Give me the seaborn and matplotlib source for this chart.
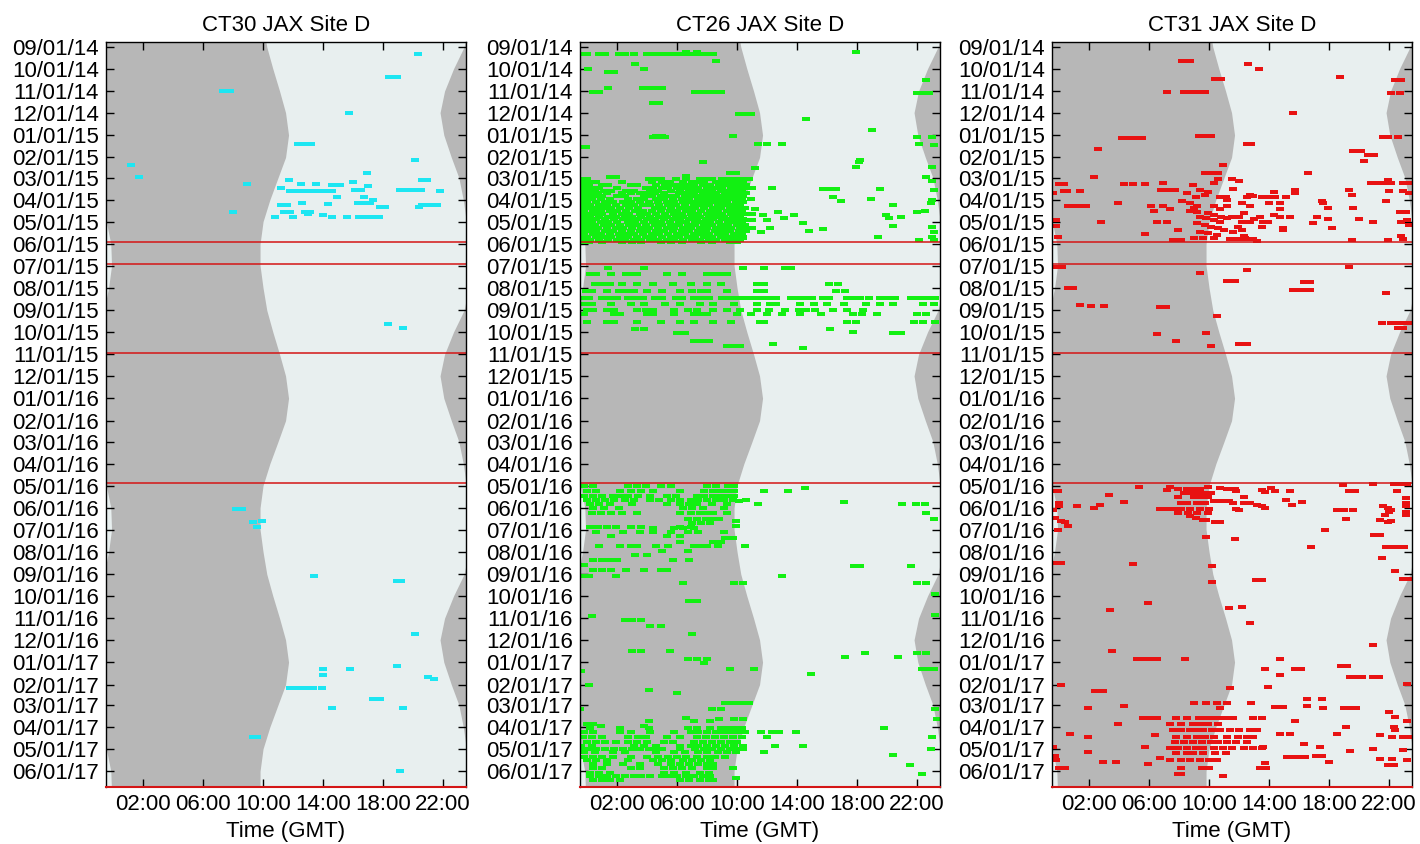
import pandas as pd
import matplotlib
matplotlib.use('Agg')
import matplotlib.pyplot as plt
import matplotlib.dates as mdates
from matplotlib.markers import MarkerStyle
import seaborn as sns

sns.set_style('ticks')
plt.rcParams['font.family'] = ['Liberation Sans', 'DejaVu Sans']
plt.rcParams['text.color'] = 'black'
plt.rcParams['axes.labelcolor'] = 'black'
plt.rcParams['xtick.color'] = 'black'
plt.rcParams['ytick.color'] = 'black'

# cores
dark = '#b7b7b7'
light = '#e8efef'
line_red = '#d41515'

# nascer / por do sol (hora GMT) no dia 1 de cada mes, jan..dez
sunrise_tab = [11.7, 11.5, 11.0, 10.45, 10.0, 9.8, 9.8, 10.0, 10.25, 10.65, 11.1, 11.5]
sunset_tab = [22.05, 22.55, 23.05, 23.35, 23.55, 23.85, 23.9, 23.7, 23.4, 22.7, 22.1, 21.8]

# linhas vermelhas (periodos)
ref_lines = ['2015-05-30', '2015-06-29', '2015-10-30', '2016-04-27']

# ---------------- CT30 ----------------
ct30_days = ['2014-09-11', '2014-10-12', '2014-11-01', '2014-12-01', '2015-01-14', '2015-02-05',
             '2015-02-12', '2015-02-22', '2015-02-28', '2015-03-05', '2015-03-07', '2015-03-10',
             '2015-03-11', '2015-03-13', '2015-03-15', '2015-03-18', '2015-03-19', '2015-03-28',
             '2015-04-01', '2015-04-05', '2015-04-06', '2015-04-08', '2015-04-11', '2015-04-18',
             '2015-04-20', '2015-04-22', '2015-04-24', '2015-09-20', '2015-09-26', '2016-06-03',
             '2016-06-19', '2016-06-20', '2016-06-28', '2016-09-03', '2016-09-11', '2016-11-23',
             '2017-01-06', '2017-01-10', '2017-01-19', '2017-01-22', '2017-01-24', '2017-02-06',
             '2017-02-21', '2017-03-05', '2017-04-14', '2017-06-01']
ct30_hours = [[20.3], [18.4, 18.9], [7.3, 7.8], [15.7], [12.3, 12.8, 13.2], [20.1],
              [1.2], [16.9], [1.7], [11.7, 20.6, 20.9], [16.0], [8.9, 12.5, 13.5],
              [14.6, 15.1], [17.0], [11.2], [16.1, 16.5, 19.1, 19.5, 20.0, 20.5],
              [11.8, 12.3, 12.8, 13.3, 13.7, 14.2, 14.6, 21.8], [14.9, 16.7],
              [17.3], [12.6, 16.3, 16.8, 17.1], [14.3], [11.2, 11.6, 20.6, 21.1, 21.6],
              [17.8, 18.1, 20.4], [8.0, 11.4, 11.8, 12.8, 13.1],
              [13.0], [14.0], [10.8, 12.0, 14.6, 15.6, 16.4, 16.8, 17.3, 17.7], [18.3], [19.3], [8.2, 8.6],
              [9.9], [9.3], [9.6], [13.4], [18.9, 19.2], [20.1],
              [18.9], [14.0, 15.8], [14.0], [21.0], [21.4], [11.8, 12.1, 12.4, 12.9, 13.3, 13.9],
              [17.3, 17.8], [14.6, 19.3], [9.3, 9.6], [19.1]]

# ---------------- CT26 ----------------
ct26_days = ['2014-09-08', '2014-09-11', '2014-09-20', '2014-09-25', '2014-10-02', '2014-10-05',
             '2014-10-17', '2014-10-28', '2014-11-02', '2014-11-04', '2014-11-17', '2014-12-03',
             '2014-12-10', '2014-12-25', '2015-01-02', '2015-01-04', '2015-01-13', '2015-01-15',
             '2015-01-17', '2015-02-04', '2015-02-07', '2015-02-14', '2015-02-16', '2015-02-22',
             '2015-02-27', '2015-02-28',
             # bloco denso mar-mai 2015
             '2015-03-03', '2015-03-07', '2015-03-11', '2015-03-15', '2015-03-19', '2015-03-23',
             '2015-03-27', '2015-03-31', '2015-04-04', '2015-04-08', '2015-04-12', '2015-04-16',
             '2015-04-20', '2015-04-24', '2015-04-28', '2015-05-02', '2015-05-06', '2015-05-10',
             '2015-05-14', '2015-05-18', '2015-05-22', '2015-05-26', '2015-05-29',
             # pontos dispersos (dia) mar-mai 2015
             '2015-03-06', '2015-03-16', '2015-03-17', '2015-03-18', '2015-03-28', '2015-03-31',
             '2015-04-01', '2015-04-03', '2015-04-05', '2015-04-08', '2015-04-14', '2015-04-17',
             '2015-04-18', '2015-04-22', '2015-04-25', '2015-04-26', '2015-04-29', '2015-05-03',
             '2015-05-07', '2015-05-08', '2015-05-10', '2015-05-11', '2015-05-14', '2015-05-15',
             '2015-05-22', '2015-05-23', '2015-05-24', '2015-05-26', '2015-05-27',
             # jul-out 2015
             '2015-07-04', '2015-07-13', '2015-07-26', '2015-08-05', '2015-08-15', '2015-08-23',
             '2015-08-31', '2015-09-06', '2015-09-17', '2015-09-27', '2015-10-01', '2015-10-03',
             '2015-10-13', '2015-10-18', '2015-10-20', '2015-10-23',
             # 2016
             '2016-05-02', '2016-05-04', '2016-05-09', '2016-05-15', '2016-05-21', '2016-05-23',
             '2016-05-24', '2016-05-27', '2016-06-01', '2016-06-08', '2016-06-16', '2016-06-19',
             '2016-06-22', '2016-06-26', '2016-06-27', '2016-06-29', '2016-07-05', '2016-07-10',
             '2016-07-13', '2016-07-18', '2016-07-24', '2016-07-31', '2016-08-05', '2016-08-12',
             '2016-08-19', '2016-08-20', '2016-08-26', '2016-09-04', '2016-09-13', '2016-09-28',
             '2016-10-08', '2016-10-27', '2016-10-29', '2016-11-03', '2016-11-12', '2016-11-23',
             '2016-12-16', '2016-12-19', '2016-12-25', '2016-12-28',
             # 2017
             '2017-01-02', '2017-01-10', '2017-01-13', '2017-01-17', '2017-02-01', '2017-02-08',
             '2017-02-13', '2017-02-26', '2017-03-07', '2017-03-19', '2017-03-21', '2017-03-23',
             '2017-03-27', '2017-03-31', '2017-04-02', '2017-04-08', '2017-04-14', '2017-04-21',
             '2017-04-27', '2017-05-02', '2017-05-06', '2017-05-10', '2017-05-13', '2017-05-17',
             '2017-05-22', '2017-05-23', '2017-05-28', '2017-06-03', '2017-06-05', '2017-06-08',
             '2017-06-11', '2017-06-13']
ct26_hours = [[17.9, 6.6, 7.3],
              [-0.2, 0.0, 0.8, 1.2, 2.1, 2.5, 3.1, 4.0, 4.4, 4.8, 5.2, 5.6, 5.9, 6.2, 6.4, 6.8, 7.2, 7.6, 8.0, 8.4],
              [8.6], [3.2], [0.05, 3.8], [1.4, 1.8],
              [22.6], [1.4, 3.7, 4.1, 4.6, 5.0], [0.4, 0.8, 7.2, 7.6, 8.1, 8.5, 8.9], [22.0, 22.4, 22.8], [4.4, 4.8], [10.1, 10.5, 10.9],
              [14.6], [19.0], [9.7, 4.6, 5.0], [4.4, 4.8, 5.2, 22.0, 23.0], [11.4, 12.0, 13.0, 22.1], [23.1],
              [-0.4, -0.1], [18.2], [7.7, 18.1], [17.9, 23.0], [11.2], [9.5, 9.9],
              [6.6], [1.5, 1.9, 22.6],
              # bloco denso
              [-0.4, 0.0, 4.1, 4.5, 4.9, 5.9, 6.6, 7.5, 7.9, 8.3, 9.0, 9.4, 9.8, 10.3, 10.8],
              [-0.3, 0.2, 0.6, 2.3, 4.3, 5.0, 5.5, 6.4, 7.0, 7.4, 7.8, 8.6, 9.1, 9.5, 10.0, 10.4],
              [-0.4, 0.1, 1.0, 1.4, 2.9, 3.3, 4.6, 5.2, 5.7, 6.1, 6.6, 7.1, 7.7, 8.2, 8.8, 9.3, 9.7, 10.2, 10.6],
              [-0.2, 0.3, 0.8, 2.0, 3.9, 4.4, 5.0, 5.4, 6.0, 6.5, 6.9, 7.4, 8.0, 8.5, 9.0, 9.6, 10.0, 10.5, 11.0],
              [-0.4, 0.0, 0.5, 1.1, 1.6, 2.6, 3.1, 4.2, 4.7, 5.6, 6.2, 6.8, 7.3, 7.8, 8.3, 8.9, 9.4, 9.8, 10.3],
              [-0.3, 0.2, 0.7, 1.3, 2.3, 2.9, 3.5, 4.0, 4.5, 5.1, 6.1, 6.6, 7.1, 7.7, 8.2, 8.6, 9.2, 9.7, 10.1, 10.6],
              [-0.4, 0.1, 0.5, 1.0, 2.0, 2.5, 3.8, 4.3, 4.9, 5.4, 5.9, 6.5, 7.0, 7.5, 8.0, 8.5, 9.0, 9.5, 10.0, 10.4],
              [-0.2, 0.3, 0.9, 1.5, 2.7, 3.3, 3.8, 4.6, 5.1, 5.7, 6.3, 6.8, 7.4, 7.9, 8.4, 8.9, 9.4, 9.9, 10.3, 10.9],
              [-0.4, 0.0, 0.6, 1.2, 1.7, 2.4, 2.9, 3.5, 4.1, 4.7, 5.3, 5.8, 6.4, 6.9, 7.3, 7.8, 8.3, 8.8, 9.3, 9.9, 10.4],
              [-0.3, 0.2, 0.8, 1.3, 1.9, 2.6, 3.1, 3.7, 4.2, 4.8, 5.4, 5.9, 6.5, 7.1, 7.6, 8.1, 8.7, 9.2, 9.7, 10.2],
              [-0.4, 0.1, 0.6, 1.1, 1.6, 2.2, 2.8, 3.4, 4.5, 5.0, 5.6, 6.2, 6.7, 7.2, 7.8, 8.4, 8.9, 9.5, 10.0, 10.5],
              [-0.2, 0.4, 0.9, 1.5, 2.0, 2.6, 3.2, 3.7, 4.3, 4.9, 5.5, 6.0, 6.6, 7.0, 7.6, 8.2, 8.7, 9.3, 9.8, 10.3],
              [-0.4, 0.0, 0.5, 1.0, 1.7, 2.3, 2.8, 3.5, 4.0, 4.6, 5.2, 5.8, 6.3, 6.9, 7.4, 8.0, 8.5, 9.0, 9.6, 10.1, 10.6, 11.0],
              [-0.3, 0.2, 0.8, 1.4, 1.9, 2.5, 3.0, 3.6, 4.2, 4.8, 5.3, 5.9, 6.4, 7.0, 7.5, 8.1, 8.6, 9.1, 9.7, 10.2],
              [-0.4, 0.1, 0.6, 1.2, 1.8, 2.4, 2.9, 3.4, 4.0, 4.5, 5.1, 5.7, 6.2, 6.8, 7.3, 7.9, 8.4, 9.0, 9.5, 10.0, 10.4],
              [-0.2, 0.3, 0.9, 1.4, 2.0, 2.7, 3.2, 3.8, 4.4, 4.9, 5.5, 6.1, 6.6, 7.2, 7.7, 8.2, 8.8, 9.4, 9.9, 10.3],
              [-0.4, 0.0, 0.5, 1.1, 1.6, 2.2, 2.8, 3.3, 3.9, 4.5, 5.0, 5.6, 6.1, 6.7, 7.2, 7.8, 8.3, 8.9, 9.4, 10.0, 10.5],
              [-0.3, 0.2, 0.7, 1.3, 1.9, 2.4, 3.0, 3.6, 4.1, 4.7, 5.3, 5.8, 6.4, 6.9, 7.5, 8.0, 8.6, 9.1, 9.6, 10.2, 10.7, 11.0],
              [-0.4, 0.1, 0.6, 1.2, 1.7, 2.3, 2.9, 3.5, 4.0, 4.6, 5.1, 5.7, 6.3, 6.8, 7.4, 7.9, 8.5, 9.0, 9.5, 10.1, 10.6],
              [-0.2, 0.4, 0.9, 1.5, 2.1, 2.6, 3.1, 3.7, 4.3, 4.8, 5.4, 6.0, 6.5, 7.1, 7.6, 8.1, 8.7, 9.2, 9.8, 10.3],
              [-0.4, 0.0, 0.6, 1.1, 1.6, 2.2, 2.7, 3.3, 3.9, 4.4, 5.0, 5.6, 6.1, 6.7, 7.2, 7.8, 8.3, 8.9, 9.4, 9.9, 10.4],
              [-0.3, 0.2, 0.8, 1.4, 2.0, 2.5, 3.1, 3.6, 4.2, 4.7, 5.3, 5.8, 6.4, 7.0, 7.5, 8.1, 8.6, 9.2, 9.7, 10.2],
              [-0.4, 0.1, 1.0, 2.3, 3.0, 3.6, 4.9, 5.6, 6.3, 7.6, 8.3, 9.5, 10.0],
              # dispersos
              [23.0], [12.3], [15.7, 16.1, 16.6, 19.5], [23.1], [16.4], [18.9],
              [23.0], [16.9], [22.9], [20.4], [11.2], [22.5],
              [12.7, 22.0], [11.7, 13.8, 19.9], [20.9], [13.1, 20.1], [12.0, 10.7, 11.0], [14.4],
              [20.4], [23.0], [12.2], [15.7], [14.8], [11.6, 23.1],
              [23.0], [19.4], [10.4], [22.1], [23.1],
              # jul-out 2015
              [1.4, 3.8, 10.4, 11.8, 13.2, 13.6],
              [0.2, 0.6, 1.6, 2.6, 3.0, 3.3, 5.3, 6.3, 8.0, 8.4, 8.9, 9.3],
              [0.5, 1.0, 1.5, 2.3, 3.3, 4.4, 5.7, 6.9, 8.0, 8.9, 11.3, 11.8, 16.1, 16.7],
              [-0.1, 0.3, 1.3, 2.1, 2.6, 3.1, 4.0, 5.0, 6.2, 7.0, 7.6, 8.0, 9.3, 11.3, 11.8, 16.6, 17.2],
              [-0.3, 0.1, 1.0, 1.5, 2.0, 2.7, 3.2, 3.7, 4.5, 5.0, 5.9, 6.3, 7.1, 7.6, 8.1, 9.0, 9.4, 9.8, 10.2, 10.6,
               11.0, 11.4, 11.8, 12.2, 12.6, 13.6, 14.1, 14.6, 15.0, 15.7, 16.1, 17.3, 17.8, 18.2, 18.8, 19.5, 20.0,
               20.5, 21.6, 22.0, 22.4, 22.8, 23.2],
              [-0.2, 0.3, 1.6, 2.9, 3.8, 5.2, 6.2, 7.5, 8.4, 9.8, 11.3, 12.2, 12.6, 14.2, 15.1, 16.0, 17.1, 18.6, 19.5,
               20.4, 22.4, 23.1],
              [0.0, 0.4, 1.3, 1.8, 3.3, 3.9, 4.4, 5.8, 6.7, 7.3, 8.4, 9.3, 10.2, 11.3, 12.1, 13.2, 14.1, 14.6, 15.2,
               16.4, 17.3, 18.4],
              [-0.2, 1.8, 2.2, 4.0, 4.4, 5.8, 7.1, 7.6, 8.0, 10.0, 10.9, 12.0, 13.0, 14.2, 15.6, 17.7, 18.3, 19.3, 22.0, 22.6],
              [0.0, 1.3, 1.8, 3.3, 4.9, 6.2, 7.1, 8.4, 9.6, 11.5, 11.8, 17.3, 17.9, 21.8, 22.4, 23.2],
              [3.2, 3.8, 16.2], [17.7], [6.0, 6.5, 20.4, 20.9],
              [7.1, 7.6, 8.1], [12.4], [9.3, 9.8, 10.2], [14.4],
              # 2016
              [-0.2, 0.4, 2.7, 3.3, 3.9, 4.9, 5.6, 8.0, 8.6, 9.4, 9.8], [14.5],
              [0.0, 0.6, 2.2, 2.9, 3.6, 4.4, 6.2, 7.8, 8.4, 8.9, 9.3, 9.8, 11.8, 13.4],
              [-0.2, 0.4, 1.0, 1.7, 2.2, 2.7, 3.4, 4.2, 5.3, 5.9, 7.3, 7.8, 8.4, 8.9, 9.4, 9.8],
              [0.0, 0.6, 1.2, 1.8, 2.5, 3.1, 4.2, 4.8, 5.6, 6.2, 6.9, 7.4, 8.0, 8.6, 9.1, 9.7, 10.6],
              [10.1], [17.1],
              [0.2, 0.8, 1.5, 3.0, 5.3, 6.2, 6.8, 7.3, 8.3, 9.3, 11.4, 21.0, 21.9, 22.5],
              [0.4, 1.1, 2.1, 6.4, 7.0, 7.7, 9.1],
              [0.3, 0.9, 1.6, 2.3, 3.3, 6.2, 6.9, 7.5, 8.0, 8.4, 9.3, 22.6],
              [6.7, 7.3, 7.9, 8.4, 8.8, 23.1], [9.9],
              [7.0, 7.6, 8.2], [9.9], [0.2, 0.7, 1.3, 1.9, 2.9, 3.6, 6.2, 6.9], [4.4, 5.8, 6.4, 7.1],
              [0.6, 2.4, 3.5, 4.4, 5.6, 6.7, 7.4, 9.1], [1.6, 5.3, 6.2],
              [9.2, 9.7], [6.2, 8.4, 8.9], [0.8, 2.2, 2.9, 3.3, 4.6, 5.4, 7.1, 7.6, 8.0, 8.7, 10.5], [5.0, 6.7],
              [3.2, 4.0], [0.4, 1.0, 1.5, 2.0, 5.7, 6.8],
              [-0.2], [17.8, 18.2, 21.6], [0.4, 1.0, 1.6, 2.6, 3.8, 4.9, 5.3], [-0.2, 0.1, 1.9, 13.0],
              [6.4, 9.8, 10.4, 22.0, 22.6], [23.2],
              [6.8, 7.3], [23.2], [0.3], [2.5, 3.0, 3.6], [4.2, 4.9], [7.0],
              [3.0, 3.6, 5.5], [18.5, 22.0, 22.6], [17.2, 20.7], [6.7, 7.3, 8.0],
              # 2017
              [7.8], [9.5, 11.1, 22.3, 22.8, 23.1], [-0.4], [14.9], [0.1], [4.1],
              [6.0], [9.2, 9.6, 10.0, 10.4, 10.8], [-0.5, 8.3, 8.9, 23.2], [6.6], [8.8, 9.8, 10.4, 23.3],
              [4.1, 7.1, 8.2],
              [0.0, 0.4], [0.9, 3.8],
              [0.2, 2.2, 4.1, 6.7, 7.3, 8.2, 8.9, 9.4, 9.8, 10.3, 19.8],
              [-0.2, 0.4, 2.2, 2.9, 4.2, 5.8, 6.9, 7.4, 8.0, 8.6, 9.1, 9.6, 10.1, 10.5, 11.6, 12.3, 12.8, 13.9],
              [-0.3, 0.3, 1.0, 2.7, 3.4, 3.9, 5.3, 6.2, 7.3, 7.9, 8.5, 9.1, 9.7, 10.3, 12.0, 23.0],
              [0.0, 0.6, 1.2, 1.9, 2.7, 3.3, 4.0, 5.1, 5.7, 7.1, 7.7, 8.3, 8.9, 9.5, 10.0],
              [-0.4, 0.3, 3.1, 3.8, 4.6, 6.2, 6.9, 7.4, 8.0, 8.6, 9.2, 9.8, 10.4, 12.5, 14.4],
              [-0.4, 0.1, 0.6, 1.2, 1.8, 2.4, 3.0, 3.5, 4.1, 4.5, 5.0, 6.2, 7.2, 7.8, 8.3, 8.9, 9.5, 10.0, 10.4, 22.9],
              [-0.2, 0.5, 1.7, 2.5, 4.6, 5.8, 6.5, 7.4, 8.0, 8.7, 9.3, 9.9, 11.8],
              [20.4],
              [-0.2, 0.4, 1.0, 1.7, 2.9, 4.0, 4.7, 5.4, 6.0, 6.6, 7.3, 8.0, 8.5, 9.2],
              [0.0, 0.6, 1.3, 2.7, 4.4, 5.0, 5.6, 6.4, 7.0, 7.6, 8.2],
              [0.4, 1.3, 2.4, 3.5, 4.7, 5.6, 6.2, 6.8, 7.4, 8.0, 8.4], [21.5],
              [0.4, 1.0, 2.9, 3.5, 5.1, 5.7, 6.3, 7.0, 8.0, 8.4, 9.7],
              [0.2, 0.8, 1.5, 5.1, 5.8, 6.6, 7.5, 8.1], [22.3],
              [0.2, 0.8, 1.3, 1.9, 2.5, 3.1, 3.6, 4.2, 5.0, 5.5, 6.0, 6.6, 7.1, 7.7, 8.2],
              [9.9], [0.4, 1.0, 1.5, 2.2, 6.2, 6.8, 7.5, 8.1, 8.4]]

# ---------------- CT31 ----------------
ct31_days = ['2014-09-20', '2014-09-25', '2014-10-02', '2014-10-12', '2014-10-15', '2014-10-17',
             '2014-11-02', '2014-11-04', '2014-12-01', '2015-01-02', '2015-01-04', '2015-01-05',
             '2015-01-13', '2015-01-21', '2015-01-23', '2015-01-28', '2015-02-06', '2015-02-12',
             '2015-02-22', '2015-02-28', '2015-03-03', '2015-03-05', '2015-03-06', '2015-03-08',
             '2015-03-09', '2015-03-10', '2015-03-11', '2015-03-17', '2015-03-18', '2015-03-19',
             '2015-03-20', '2015-03-21', '2015-03-22', '2015-03-23', '2015-03-25', '2015-03-27',
             '2015-03-28', '2015-04-01', '2015-04-02', '2015-04-03', '2015-04-05', '2015-04-09',
             '2015-04-10', '2015-04-12', '2015-04-14', '2015-04-17', '2015-04-18', '2015-04-19',
             '2015-04-22', '2015-04-24', '2015-04-25', '2015-04-26', '2015-04-27', '2015-04-29',
             '2015-05-01', '2015-05-02', '2015-05-03', '2015-05-06', '2015-05-07', '2015-05-08',
             '2015-05-10', '2015-05-12', '2015-05-13', '2015-05-15', '2015-05-17', '2015-05-18',
             '2015-05-20', '2015-05-21', '2015-05-22', '2015-05-24', '2015-05-25', '2015-05-26',
             '2015-05-28',
             '2015-07-03', '2015-07-07', '2015-07-11', '2015-07-22', '2015-07-24', '2015-08-01',
             '2015-08-04', '2015-08-08', '2015-08-25', '2015-08-26', '2015-08-27', '2015-09-09',
             '2015-09-18', '2015-09-26', '2015-10-03', '2015-10-04', '2015-10-13', '2015-10-18',
             '2015-10-20',
             '2016-04-29', '2016-04-30', '2016-05-03', '2016-05-04', '2016-05-06', '2016-05-07',
             '2016-05-09', '2016-05-10', '2016-05-11', '2016-05-14', '2016-05-17', '2016-05-18',
             '2016-05-21', '2016-05-22', '2016-05-24', '2016-05-25', '2016-05-28', '2016-05-29',
             '2016-05-30', '2016-06-01', '2016-06-03', '2016-06-04', '2016-06-06', '2016-06-08',
             '2016-06-11', '2016-06-12', '2016-06-15', '2016-06-17', '2016-06-18', '2016-06-19',
             '2016-06-20', '2016-06-21', '2016-06-26', '2016-07-01', '2016-07-09', '2016-07-12',
             '2016-07-14', '2016-07-25', '2016-08-10', '2016-08-17', '2016-08-18', '2016-08-21',
             '2016-08-27', '2016-09-07', '2016-09-09', '2016-09-12', '2016-10-11', '2016-10-17',
             '2016-10-18', '2016-10-20', '2016-11-07', '2016-12-08', '2016-12-16', '2016-12-28',
             '2017-01-06', '2017-01-10', '2017-01-19', '2017-01-22', '2017-01-31', '2017-02-01',
             '2017-02-04', '2017-02-06', '2017-02-10', '2017-02-21', '2017-02-26', '2017-02-27',
             '2017-03-03', '2017-03-04', '2017-03-06', '2017-03-11', '2017-03-18', '2017-03-19',
             '2017-03-23', '2017-03-24', '2017-03-27', '2017-04-01', '2017-04-05', '2017-04-10',
             '2017-04-12', '2017-04-14', '2017-04-15', '2017-04-21', '2017-04-25', '2017-04-28',
             '2017-04-29', '2017-04-30', '2017-05-01', '2017-05-03', '2017-05-04', '2017-05-06',
             '2017-05-07', '2017-05-11', '2017-05-12', '2017-05-14', '2017-05-15', '2017-05-16',
             '2017-05-19', '2017-05-21', '2017-05-22', '2017-05-23', '2017-05-27', '2017-05-28',
             '2017-06-05', '2017-06-08']
ct31_hours = [[8.2, 8.7], [12.6], [13.3], [18.7], [10.4, 10.8], [22.4, 22.8],
              [7.2, 8.3, 8.7, 9.0, 9.4, 9.7], [22.1, 22.7], [15.6], [9.3, 9.7, 10.1], [21.6, 21.9, 22.6], [4.2, 4.6, 5.0, 5.5],
              [12.5, 12.8], [2.6], [19.6, 20.1], [20.6, 21.0], [20.3], [10.9],
              [9.7, 10.2, 10.6, 16.6], [2.3], [10.6, 11.5], [21.9], [12.0], [10.3, 20.8, 21.2, 21.6, 22.1, 22.9, 23.4],
              [6.9], [0.0, 0.3, 4.3, 4.9, 5.7], [8.9], [11.6], [6.8, 7.2, 7.7, 9.4, 15.7, 19.3], [0.3, 0.5, 22.0, 22.9],
              [1.4], [9.9, 14.3], [-0.4, 23.3], [8.5, 15.7], [9.7, 12.7, 19.5], [12.9],
              [9.1, 10.7, 11.1, 12.5, 13.5, 13.9, 14.4, 15.1], [11.2], [17.5, 21.8], [8.2],
              [3.9, 8.7, 12.2, 14.0, 14.7, 17.6], [0.6, 1.0, 1.4, 1.8, 6.1, 9.2],
              [6.9, 10.3, 11.2, 12.7], [9.0, 17.9, 19.6], [7.4, 10.7, 14.7], [6.3, 8.7], [9.2, 22.7, 23.1], [9.9, 12.3],
              [10.3, 14.3], [9.4, 10.8, 11.6, 13.4, 14.7, 15.4, 17.2], [11.5, 12.0], [9.8, 11.2], [13.0, 17.9, 20.0],
              [-0.2, 10.3, 23.2],
              [7.2, 10.7, 12.2, 12.7, 13.6, 13.9], [2.8, 6.5, 20.9, 22.8], [9.2, 16.9], [9.7, 23.3], [-0.2],
              [10.1, 11.9, 13.5],
              [10.6, 14.9, 18.2], [7.9, 12.2], [11.0, 14.9], [9.4, 11.6], [9.9], [5.7],
              [10.5], [12.3, 22.8], [-0.1], [9.0, 9.6, 10.3, 12.4], [11.4, 11.9, 12.4, 12.9, 22.9],
              [7.6, 8.1, 19.5, 21.9],
              [13.2],
              [-0.2, 0.2, 19.3], [12.5], [9.4], [11.2, 11.7], [16.3, 16.7], [0.6, 0.9],
              [15.6, 16.0, 16.4, 16.7], [21.8], [1.4], [2.1, 3.0], [6.7, 7.1], [10.5],
              [21.5, 22.1, 22.5, 22.9, 23.3], [22.6, 22.9], [9.8], [6.5], [7.8], [12.0, 12.5],
              [10.1],
              [20.9, 22.3, 22.7, 23.2], [18.9], [5.3, 7.4, 9.9], [10.7, 14.1], [7.9, 8.5, 8.9, 9.4, 11.2, 11.7],
              [7.2, 13.5],
              [-0.3, -0.1, 11.8, 15.4, 19.3, 19.7, 22.5, 14.4], [13.7], [8.3, 8.7, 9.2, 9.6, 10.1], [3.3],
              [7.9, 9.0, 9.4, 9.9, 12.3], [23.1],
              [15.1], [10.3, 10.5, 11.0, 11.3], [4.3, 16.2], [0.0, 8.1, 8.5, 9.2, 9.7, 11.6, 12.3, 12.7, 23.1],
              [2.7, 13.2, 15.5], [0.0, 13.5],
              [1.2, 21.6, 23.1], [2.3, 13.7, 21.9], [6.7, 7.2, 7.6, 8.1, 8.7, 9.4, 10.0, 11.8],
              [-0.4, 12.0, 18.5, 19.0, 19.6, 22.1], [22.0, 23.1], [7.9, 8.6, 9.2, 9.9],
              [21.7, 23.1], [8.7], [-0.3, 9.1], [19.1], [9.6, 9.8, 21.4], [0.1, 22.1],
              [10.4, 10.7, 21.9], [0.4], [0.6], [-0.1, 17.7], [21.0, 21.4], [9.8],
              [11.7], [16.8, 21.8, 22.1, 22.6, 23.0], [21.5], [-0.3, 0.1], [4.9], [10.2],
              [22.4], [22.9, 23.4], [13.1, 13.5], [10.2], [5.9], [12.2],
              [11.3], [3.4], [12.7], [20.9], [3.5], [5.2, 5.6, 6.0, 6.5, 8.4, 14.7],
              [18.8, 19.2], [13.7, 15.7, 16.1], [14.7], [19.4, 19.8, 20.2, 20.9, 21.3], [23.2], [0.1],
              [13.9], [11.4], [2.4, 2.9], [16.5, 17.5], [9.0, 9.8, 10.5, 11.2], [12.8],
              [4.3, 16.5], [14.4, 14.9], [1.9, 10.7, 17.6, 19.0, 19.4, 19.8], [22.0], [22.4],
              [5.6, 6.0, 6.5, 7.8, 8.5, 9.3, 9.8, 10.3, 10.7, 11.2, 11.6, 12.9, 13.5],
              [23.2], [15.7], [3.9, 7.4, 8.1, 8.9, 9.4, 9.9, 10.6], [19.1, 22.3],
              [7.6, 8.1, 8.7, 9.2, 9.6, 10.2, 10.7, 11.4, 12.0, 12.7, 13.2, 22.4], [0.7, 14.7, 15.4, 18.5],
              [6.4, 21.4], [7.8, 8.5, 9.2, 9.7, 10.3, 11.2, 11.9, 12.5, 12.9, 22.2, 22.9], [1.9, 23.3],
              [7.7, 8.3, 8.9, 9.5, 10.1, 10.6, 11.2, 11.8, 12.5], [16.3], [-0.4, 13.6, 17.4],
              [5.7], [7.4, 7.9, 8.5, 9.1, 9.6, 10.3, 10.9, 11.5, 12.3, 12.9, 13.5], [20.9], [22.9], [19.4], [1.9],
              [7.8, 8.5, 8.9, 9.6, 10.4, 11.1], [-0.3, 17.1, 17.5], [15.2, 15.6, 16.0, 16.4], [6.7], [21.4, 22.2],
              [-0.2, 7.4, 8.1, 8.7, 9.4, 10.0, 10.5, 23.2],
              [2.9, 3.8, 18.0], [13.7], [5.9], [21.9, 22.3], [13.4, 13.8], [0.0, 0.4, 8.1, 9.5, 10.0],
              [7.9, 8.1], [10.9]]

panels = [('CT30 JAX Site D', ct30_days, ct30_hours, '#1de6f2'),
          ('CT26 JAX Site D', ct26_days, ct26_hours, '#12f012'),
          ('CT31 JAX Site D', ct31_days, ct31_hours, '#e81212')]

# sombreamento dia/noite
shade_dates = pd.date_range('2014-08-01', '2017-08-01', freq='MS')
rise = pd.Series([sunrise_tab[d.month - 1] for d in shade_dates])
sset = pd.Series([sunset_tab[d.month - 1] for d in shade_dates])

# marcador retangular (barra de deteccao)
bar = MarkerStyle([(-1, -0.52), (1, -0.52), (1, 0.52), (-1, 0.52)])

fig = plt.figure(figsize=(14.2, 8.44), dpi=100)
lefts = [106 / 1420, 580 / 1420, 1052 / 1420]

for left, (title, days, hours, color) in zip(lefts, panels):
    ax = fig.add_axes([left, 57 / 844, 360 / 1420, 745 / 844])
    ax.set_facecolor(dark)
    ax.fill_betweenx(shade_dates, rise, sset, color=light, lw=0, zorder=0.5)
    ax.fill_betweenx(shade_dates, rise - 24, sset - 24, color=light, lw=0, zorder=0.5)

    rows = [(pd.Timestamp(d), h) for d, hs in zip(days, hours) for h in hs]
    df = pd.DataFrame(rows, columns=['date', 'hour'])
    sns.scatterplot(data=df, x='hour', y='date', marker=bar, s=33, color=color,
                    linewidth=0, ax=ax, legend=False, zorder=2)

    for d in ref_lines:
        ax.axhline(pd.Timestamp(d), color=line_red, lw=1.1, zorder=3)

    ax.set_xlim(-0.47, 23.53)
    ax.set_ylim(pd.Timestamp('2017-06-23'), pd.Timestamp('2014-08-25'))
    ax.set_yticks(pd.date_range('2014-09-01', '2017-06-01', freq='MS'))
    ax.yaxis.set_major_formatter(mdates.DateFormatter('%m/%d/%y'))
    ax.set_xticks([2, 6, 10, 14, 18, 22])
    ax.set_xticklabels(['02:00', '06:00', '10:00', '14:00', '18:00', '22:00'])
    ax.tick_params(direction='in', length=6, width=1, top=True, right=True,
                   labelsize=16, pad=5, color='black', labelcolor='black')
    for s in ax.spines.values():
        s.set_color('black')
        s.set_linewidth(1)
        s.set_zorder(4)
    ax.spines['bottom'].set_color(line_red)
    ax.spines['bottom'].set_linewidth(1.5)
    ax.set_title(title, fontsize=16, pad=8, color='black')
    ax.set_xlabel('Time (GMT)', fontsize=16, labelpad=4, color='black')
    ax.set_ylabel('')

fig.savefig('out.png', dpi=100)
